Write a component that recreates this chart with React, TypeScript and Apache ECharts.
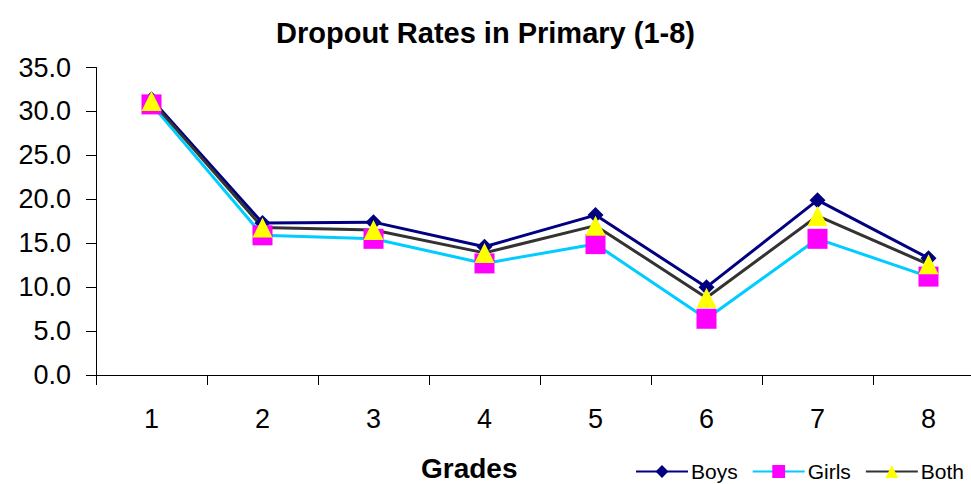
import React, { useEffect, useRef } from "react";
import * as echarts from "echarts";

const grades = ["1", "2", "3", "4", "5", "6", "7", "8"];
const boys = [31.4, 17.3, 17.4, 14.6, 18.2, 10.0, 19.9, 13.3];
const girls = [30.8, 15.9, 15.5, 12.7, 14.9, 6.4, 15.5, 11.2];
const both = [31.2, 16.8, 16.5, 13.9, 17.0, 8.8, 18.1, 12.6];
const FONT = "Liberation Sans, Arial, sans-serif";

export default function App() {
  const ref = useRef<HTMLDivElement>(null);
  useEffect(() => {
    if (!ref.current) return;
    const chart = echarts.init(ref.current, undefined, { renderer: "svg" });
    chart.setOption({
      animation: false,
      backgroundColor: "#ffffff",
      title: [
        {
          text: "Dropout Rates in Primary (1-8)",
          left: "center",
          top: 13,
          textStyle: { fontFamily: FONT, fontSize: 29, fontWeight: "bold", color: "#000" },
        },
        {
          text: "Grades",
          left: 421,
          top: 454,
          padding: 0,
          textStyle: { fontFamily: FONT, fontSize: 28, lineHeight: 28, fontWeight: "bold", color: "#000" },
        },
      ],
      legend: {
        left: 630,
        top: 456,
        itemWidth: 52,
        itemHeight: 16,
        itemGap: 14,
        textStyle: { fontFamily: FONT, fontSize: 21, color: "#000", padding: [0, 0, 0, -2] },
        data: ["Boys", "Girls", "Both"],
      },
      grid: {
        left: 96,
        top: 67.5,
        width: 888,
        height: 307.5,
        containLabel: false,
        outerBoundsMode: "none",
      },
      xAxis: {
        type: "category",
        data: grades,
        boundaryGap: true,
        axisLine: { lineStyle: { color: "#000", width: 1 } },
        axisTick: { show: true, length: 10, lineStyle: { color: "#000" } },
        axisLabel: { fontFamily: FONT, fontSize: 27, color: "#000", margin: 30 },
      },
      yAxis: {
        type: "value",
        min: 0,
        max: 35,
        interval: 5,
        axisLine: { show: true, lineStyle: { color: "#000", width: 1 } },
        axisTick: { show: true, length: 10, lineStyle: { color: "#000" } },
        splitLine: { show: false },
        axisLabel: {
          fontFamily: FONT,
          fontSize: 27,
          color: "#000",
          margin: 25,
          formatter: (v: number) => v.toFixed(1),
        },
      },
      series: [
        {
          name: "Boys",
          type: "line",
          data: boys,
          symbol: "diamond",
          symbolSize: 16,
          lineStyle: { color: "#000080", width: 3 },
          itemStyle: { color: "#000080" },
        },
        {
          name: "Girls",
          type: "line",
          data: girls,
          symbol: "rect",
          symbolSize: 20,
          lineStyle: { color: "#00CCFF", width: 3 },
          itemStyle: { color: "#FF00FF" },
        },
        {
          name: "Both",
          type: "line",
          data: both,
          symbol: "triangle",
          symbolSize: 20,
          lineStyle: { color: "#333333", width: 3 },
          itemStyle: { color: "#FFFF00" },
        },
      ],
    });
    return () => chart.dispose();
  }, []);
  return <div ref={ref} style={{ width: 971, height: 484, position: "absolute", left: 0, top: 0 }} />;
}
